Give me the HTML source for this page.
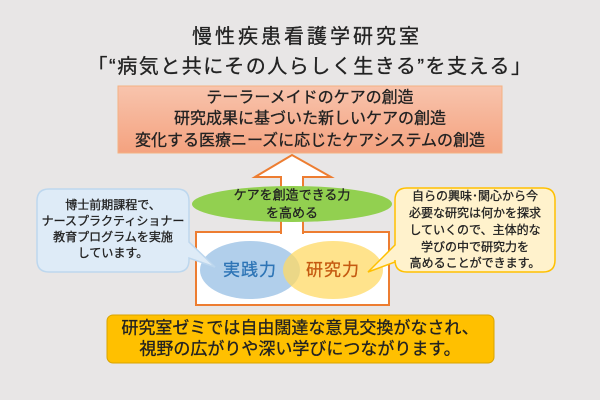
<!DOCTYPE html>
<html><head><meta charset="utf-8"><style>
html,body{margin:0;padding:0;background:#e8e6e6;}
svg{display:block;}
text{font-family:"Liberation Sans","Noto Sans CJK JP",sans-serif;text-anchor:middle;dominant-baseline:central;fill:#222;stroke:#222;stroke-width:0.3;}
</style></head><body>
<svg width="600" height="400" viewBox="0 0 600 400" xmlns="http://www.w3.org/2000/svg">
<defs>
<linearGradient id="og" x1="0" y1="0" x2="0" y2="1">
<stop offset="0" stop-color="#f8c4ad"/><stop offset="1" stop-color="#f4a27f"/>
</linearGradient>
</defs>
<rect width="600" height="400" fill="#e8e6e6"/>
<text x="307" y="37" font-size="20" letter-spacing="3">慢性疾患看護学研究室</text>
<text x="310" y="67" font-size="20" letter-spacing="1.5">「“病気と共にその人らしく生きる”を支える」</text>
<rect x="118" y="86" width="384" height="67" fill="url(#og)" stroke="#f4b183" stroke-width="1"/>
<text x="310" y="98" font-size="16">テーラーメイドのケアの創造</text>
<text x="310" y="119" font-size="16">研究成果に基づいた新しいケアの創造</text>
<text x="310" y="141" font-size="16">変化する医療ニーズに応じたケアシステムの創造</text>
<rect x="196" y="232" width="193" height="73" fill="#fff" stroke="#ed7d31" stroke-width="2"/>
<polygon points="281,233 281,177 255,177 292,155 331,177 303,177 303,233" fill="#fff" stroke="#ed7d31" stroke-width="2"/>
<rect x="282" y="228" width="20" height="8" fill="#fff"/>
<ellipse cx="292" cy="204" rx="100" ry="18" fill="#92d050"/>
<text x="292" y="195" font-size="13">ケアを創造できる力</text>
<text x="292" y="213" font-size="13">を高める</text>
<ellipse cx="250" cy="270" rx="50" ry="29" fill="#9dc3e6" fill-opacity="0.8"/>
<ellipse cx="333" cy="270" rx="50" ry="29" fill="#ffd966" fill-opacity="0.75"/>
<text x="250" y="270" font-size="17" style="fill:#2e75b6;stroke:#2e75b6" letter-spacing="1">実践力</text>
<text x="333" y="270" font-size="17" style="fill:#c55a11;stroke:#c55a11" letter-spacing="1">研究力</text>
<path d="M49,189 H177 Q189,189 189,201 V242 L215,267 L189,258 V260 Q189,272 177,272 H49 Q37,272 37,260 V201 Q37,189 49,189 Z" fill="#deebf7" stroke="#bdd7ee" stroke-width="1.5"/>
<text x="113" y="205" font-size="12">博士前期課程で、</text>
<text x="113" y="221" font-size="12">ナースプラクティショナー</text>
<text x="113" y="237" font-size="12">教育プログラムを実施</text>
<text x="113" y="253" font-size="12">しています。</text>
<path d="M407,188 H543 Q555,188 555,200 V260 Q555,272 543,272 H407 Q395,272 395,260 V262 L368,272 L395,245 V200 Q395,188 407,188 Z" fill="#fff2cc" stroke="#ffc000" stroke-width="1.5"/>
<text x="475" y="196" font-size="12">自らの興味･関心から今</text>
<text x="475" y="213" font-size="12">必要な研究は何かを探求</text>
<text x="475" y="230" font-size="12">していくので、主体的な</text>
<text x="475" y="247" font-size="12">学びの中で研究力を</text>
<text x="475" y="263" font-size="12">高めることができます。</text>
<rect x="107" y="315" width="387" height="48" rx="6" fill="#ffc000" stroke="#d9a400" stroke-width="1"/>
<text x="300" y="328" font-size="17">研究室ゼミでは自由闊達な意見交換がなされ、</text>
<text x="300" y="349" font-size="17">視野の広がりや深い学びにつながります。</text>
</svg>
</body></html>
